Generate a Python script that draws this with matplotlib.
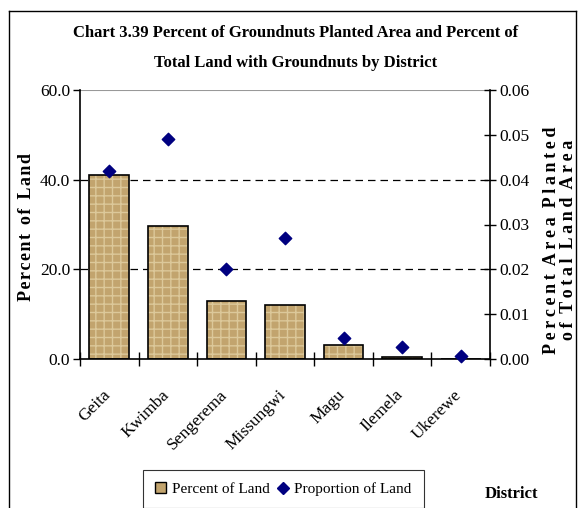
import matplotlib
matplotlib.use("Agg")
import matplotlib.pyplot as plt
import matplotlib.transforms as mtransforms
import numpy as np
from matplotlib.lines import Line2D
from matplotlib.patches import Patch

districts = ["Geita", "Kwimba", "Sengerema", "Missungwi", "Magu", "Ilemela", "Ukerewe"]
percent_of_land = [41.0, 29.7, 12.9, 12.0, 3.1, 0.4, 0.0]
proportion_of_land = [0.042, 0.049, 0.020, 0.027, 0.0046, 0.0027, 0.0007]

plt.rcParams['font.family'] = ['Liberation Serif', 'DejaVu Serif']


def spaced(s, sep="\u200a"):
    return "  ".join(sep.join(list(w)) for w in s.split(" "))


W, H = 579, 508
fig = plt.figure(figsize=(W / 100, H / 100), dpi=100)
# figure border (left, top, right)
bx0, by0, bx1 = 9 / W, 1 - 11 / H, 576 / W
fig.add_artist(Line2D([bx0, bx0], [0, by0], transform=fig.transFigure, color='black', linewidth=1.0))
fig.add_artist(Line2D([bx0, bx1], [by0, by0], transform=fig.transFigure, color='black', linewidth=1.0))
fig.add_artist(Line2D([bx1, bx1], [0, by0], transform=fig.transFigure, color='black', linewidth=1.0))

ax = fig.add_axes([80 / W, 1 - 359 / H, 410 / W, 269 / H])
x = np.arange(len(districts))

bar_face = '#c2a46e'
ax.bar(x, percent_of_land, width=0.68, color=bar_face, edgecolor='#dcc89a',
       hatch='++', linewidth=0, zorder=2)
ax.bar(x, percent_of_land, width=0.68, fill=False, edgecolor='black', linewidth=1.2, zorder=3)

ax.set_xlim(-0.5, len(districts) - 0.5)
ax.set_ylim(0, 60)
ax.set_yticks([0, 20, 40, 60])
ax.set_yticklabels([f"{v:.1f}" for v in [0, 20, 40, 60]], fontsize=12.5)
for yv in [20, 40]:
    ax.axhline(yv, color='black', linestyle=(0, (6, 4)), linewidth=0.9, zorder=1)
ax.axhline(60, color='#999999', linewidth=1.5, zorder=1)

for s in ['top', 'right']:
    ax.spines[s].set_visible(False)
ax.spines['left'].set_linewidth(1.2)
ax.spines['bottom'].set_linewidth(1.2)
ax.tick_params(axis='y', direction='out', length=5, width=1.0, pad=2)
ax.set_xticks(np.arange(-0.5, len(districts) + 0.5, 1.0), minor=True)
ax.set_xticks(x)
ax.set_xticklabels(districts, rotation=45, ha='right', rotation_mode='anchor', fontsize=12.5)
ax.tick_params(axis='x', which='major', length=0, pad=20)
ax.tick_params(axis='x', which='minor', direction='inout', length=10, width=1.0)
offset = mtransforms.ScaledTranslation(-7 / 100, 0, fig.dpi_scale_trans)
for lab in ax.get_xticklabels():
    lab.set_transform(lab.get_transform() + offset)

ax.set_ylabel(spaced("Percent of Land"), fontsize=13, fontweight='bold')
ax.yaxis.set_label_coords((35 - 80) / 410, 0.49)

ax2 = ax.twinx()
ax2.set_ylim(0, 0.06)
ax2.set_yticks(np.arange(0, 0.061, 0.01))
ax2.set_yticklabels([f"{v:.2f}" for v in np.arange(0, 0.061, 0.01)], fontsize=12.5)
for s in ['top', 'left', 'bottom']:
    ax2.spines[s].set_visible(False)
ax2.spines['right'].set_linewidth(1.2)
ax2.tick_params(axis='y', direction='inout', length=8, width=1.0, pad=3)
ax2.scatter(x, proportion_of_land, marker='D', s=40, color='#000080', zorder=4, clip_on=False)
ax2.set_ylabel(spaced("Percent Area Planted", "\u2009") + "\n" + spaced("of Total Land Area", "\u2009"),
               fontsize=13, fontweight='bold', linespacing=0.95, rotation=90, va='center')
ax2.yaxis.set_label_coords((560 - 80) / 410, (359 - 240) / 269)

fig.text(296 / W, 1 - 48 / H,
         "Chart 3.39 Percent of Groundnuts Planted Area and Percent of\nTotal Land with Groundnuts by District",
         ha='center', va='center', fontsize=12, fontweight='bold', linespacing=2.1)

handles = [Patch(facecolor=bar_face, edgecolor='black', linewidth=1.0),
           Line2D([], [], marker='D', linestyle='none', color='#000080', markersize=6)]
leg = fig.legend(handles, ["Percent of Land", "Proportion of Land"], loc='upper left',
                 bbox_to_anchor=(143 / W, 1 - 470 / H), ncol=2, frameon=True, fontsize=11,
                 fancybox=False, edgecolor='black', handlelength=0.7, handletextpad=0.4,
                 columnspacing=0.5, borderpad=0.8, borderaxespad=0)
leg.get_frame().set_linewidth(0.8)

fig.text(511 / W, 1 - 494 / H, "District", ha='center', va='center', fontsize=12, fontweight='bold')

fig.savefig("out.png", dpi=100)
